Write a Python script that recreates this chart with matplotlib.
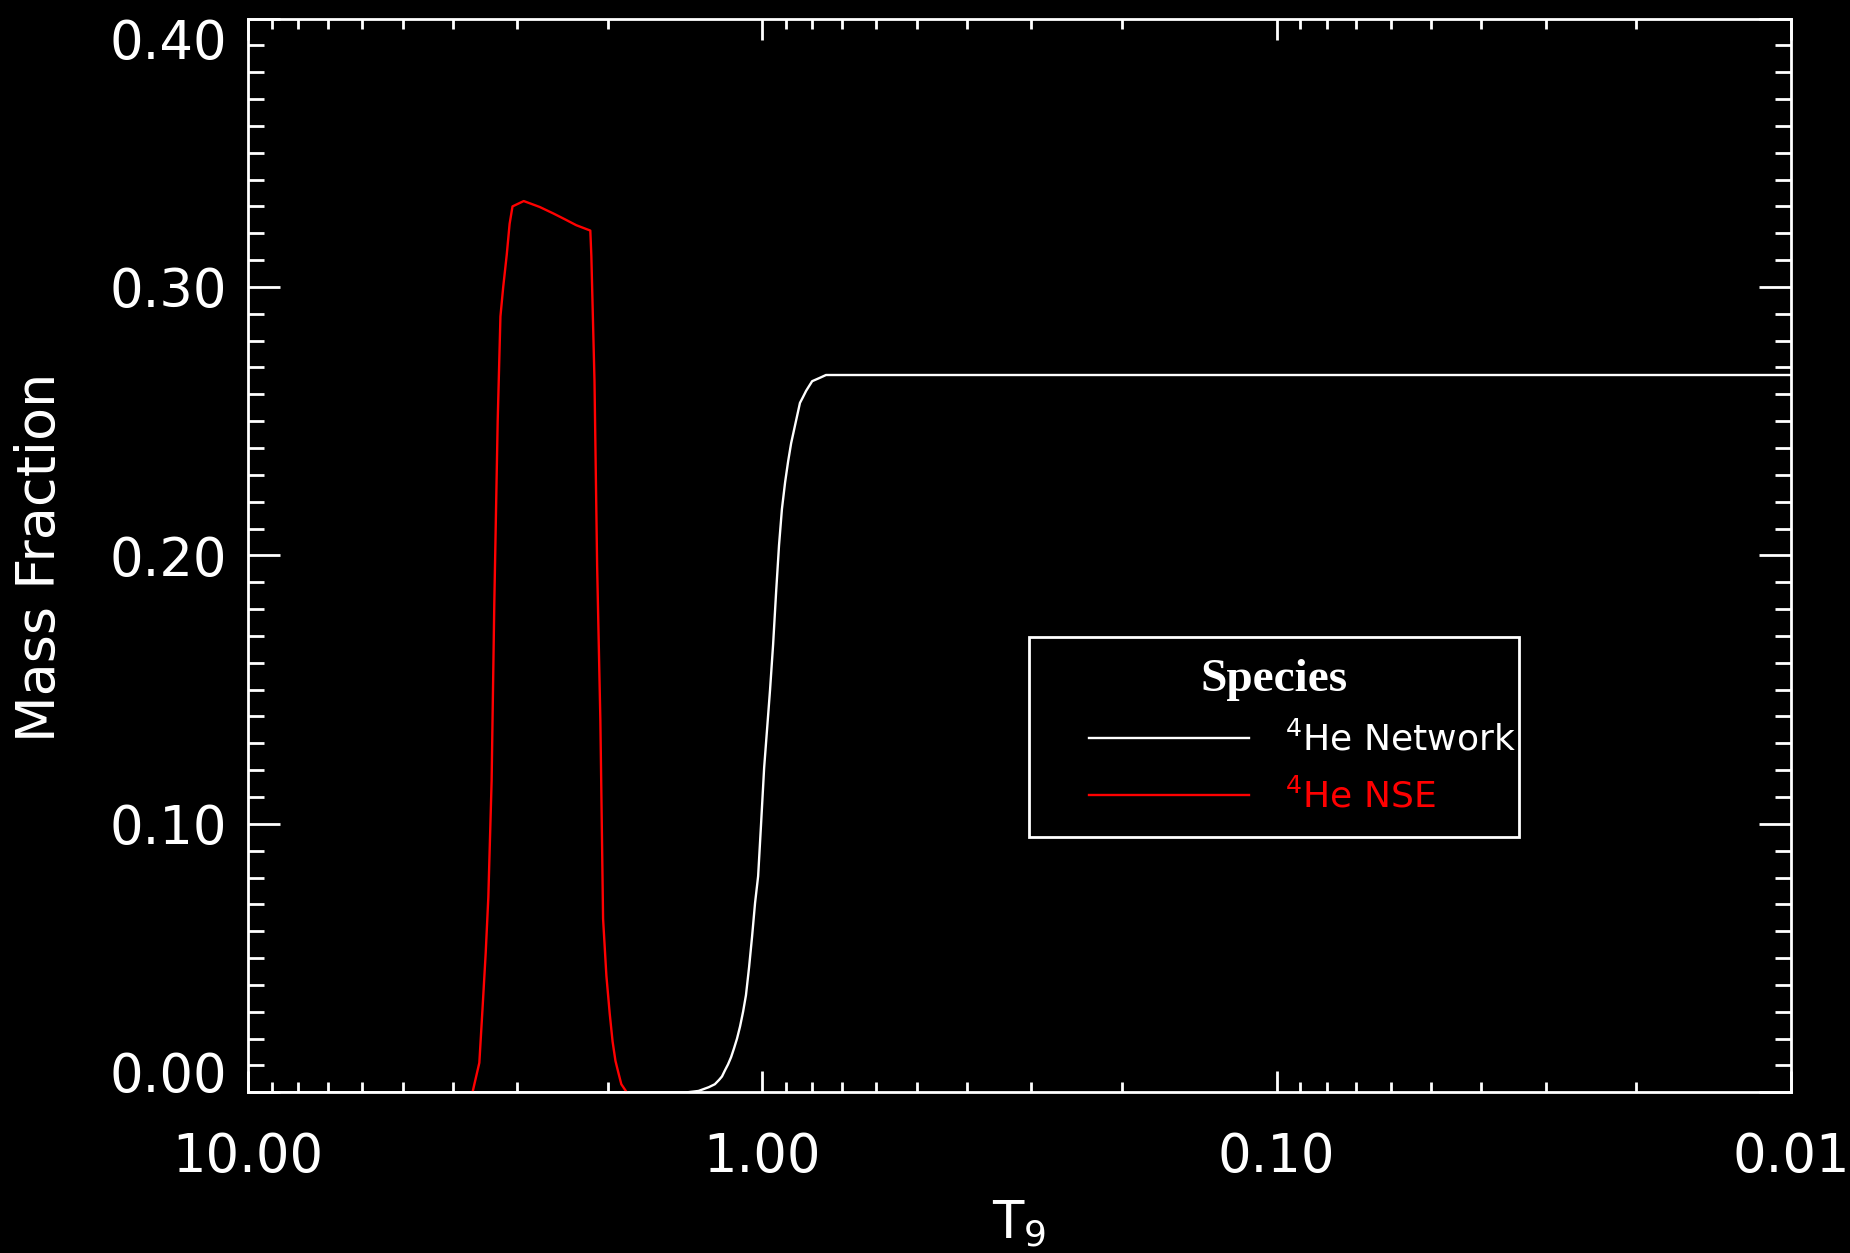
import numpy as np
import matplotlib
matplotlib.use('Agg')
import matplotlib.pyplot as plt
from matplotlib.ticker import FixedLocator, MultipleLocator, LogLocator, NullFormatter, FormatStrFormatter
from matplotlib.legend_handler import HandlerLine2D

# 4He mass fraction vs T9
t9_network = [10.0, 1.40, 1.331, 1.271, 1.237, 1.214, 1.198, 1.182, 1.166, 1.150,
              1.135, 1.120, 1.105, 1.090, 1.076, 1.061, 1.047, 1.033, 1.019, 1.006,
              0.992, 0.979, 0.966, 0.953, 0.940, 0.928, 0.916, 0.903, 0.891, 0.879,
              0.868, 0.856, 0.845, 0.834, 0.822, 0.811, 0.800, 0.774, 0.752, 0.01]
x_network = [0.0, 0.0, 0.0005, 0.0019, 0.0030, 0.0046, 0.0059, 0.0082, 0.0104, 0.0131,
             0.0164, 0.0200, 0.0245, 0.0300, 0.0362, 0.0467, 0.0580, 0.0706, 0.0805, 0.0995,
             0.1208, 0.1353, 0.1500, 0.1667, 0.1866, 0.2038, 0.2173, 0.2273, 0.2350, 0.2418,
             0.2466, 0.2519, 0.2568, 0.2589, 0.2613, 0.2631, 0.2649, 0.2661, 0.2672, 0.2672]

t9_nse = [3.66, 3.55, 3.50, 3.45, 3.41, 3.36, 3.32, 3.27, 3.23, 3.19, 3.14, 3.10, 3.06,
          2.91, 2.71, 2.55, 2.42, 2.30, 2.16, 2.15, 2.12, 2.095, 2.065, 2.04, 2.01, 1.98,
          1.955, 1.93, 1.905, 1.88, 1.835]
x_nse = [0.0, 0.011, 0.031, 0.052, 0.0726, 0.116, 0.182, 0.250, 0.289, 0.300, 0.312, 0.3235,
         0.330, 0.332, 0.3298, 0.3274, 0.3252, 0.323, 0.321, 0.3115, 0.265, 0.196, 0.1386,
         0.0646, 0.0434, 0.0292, 0.0189, 0.0117, 0.0073, 0.003, 0.0]

labels = ['$^4$He Network', '$^4$He NSE']
colors = ['white', '#ff0000']
xticks = [10.0, 1.0, 0.1, 0.01]
yticks = [0.0, 0.1, 0.2, 0.3, 0.4]

plt.rcParams['font.family'] = 'DejaVu Sans'
plt.rcParams['mathtext.fontset'] = 'dejavusans'

W, H = 1850, 1253
fig = plt.figure(figsize=(W / 100, H / 100), dpi=100, facecolor='black')
ax = fig.add_axes([248 / W, 1 - 1092.3 / H, (1791 - 248) / W, (1092.3 - 18.5) / H])
ax.set_facecolor('black')

l1, = ax.plot(t9_network, x_network, color=colors[0], lw=1.7)
l2, = ax.plot(t9_nse, x_nse, color=colors[1], lw=1.7)

ax.set_xscale('log')
ax.set_xlim(10, 0.01)
ax.set_ylim(0, 0.4)

ax.xaxis.set_major_locator(FixedLocator(xticks))
ax.xaxis.set_major_formatter(FormatStrFormatter('%.2f'))
ax.xaxis.set_minor_locator(LogLocator(base=10, subs=np.arange(2, 10)))
ax.xaxis.set_minor_formatter(NullFormatter())
ax.yaxis.set_major_locator(FixedLocator(yticks))
ax.yaxis.set_major_formatter(FormatStrFormatter('%.2f'))
ax.yaxis.set_minor_locator(MultipleLocator(0.01))

for s in ax.spines.values():
    s.set_color('white')
    s.set_linewidth(2)

ax.tick_params(axis='both', which='both', direction='in', colors='white',
               top=True, right=True, width=2, labelsize=38)
ax.tick_params(axis='x', which='major', length=15, pad=28)
ax.tick_params(axis='x', which='minor', length=7)
ax.tick_params(axis='y', which='major', length=23, pad=15)
ax.tick_params(axis='y', which='minor', length=11.5)

yt = ax.yaxis.get_major_ticks()
yt[0].label1.set_va('baseline')
yt[-1].label1.set_va('top')

fig.text(40 / W, 1 - 557 / H, 'Mass Fraction', rotation=90, ha='center', va='center',
         color='white', fontsize=39)
fig.text(1019 / W, 1 - 1238 / H, 'T$_9$', ha='center', va='baseline',
         color='white', fontsize=37)

fs = 26
leg = ax.legend([l1, l2], labels, loc='upper left',
                bbox_to_anchor=(1029 / W, 1 - 835 / H, 490 / W, 198 / H),
                bbox_transform=fig.transFigure, mode='expand', borderaxespad=0,
                fontsize=fs, title='Species',
                title_fontproperties={'family': 'Liberation Serif', 'weight': 'bold', 'size': 34},
                handlelength=5.5, handletextpad=1.0, borderpad=0.6, labelspacing=0.58,
                fancybox=False, edgecolor='white', facecolor='black', framealpha=1,
                labelcolor='linecolor',
                handler_map={l1: HandlerLine2D(xpad=1.05), l2: HandlerLine2D(xpad=1.05)})
leg.get_frame().set_linewidth(2)
leg.get_title().set_color('white')

fig.savefig('out.png', dpi=100, facecolor='black')
